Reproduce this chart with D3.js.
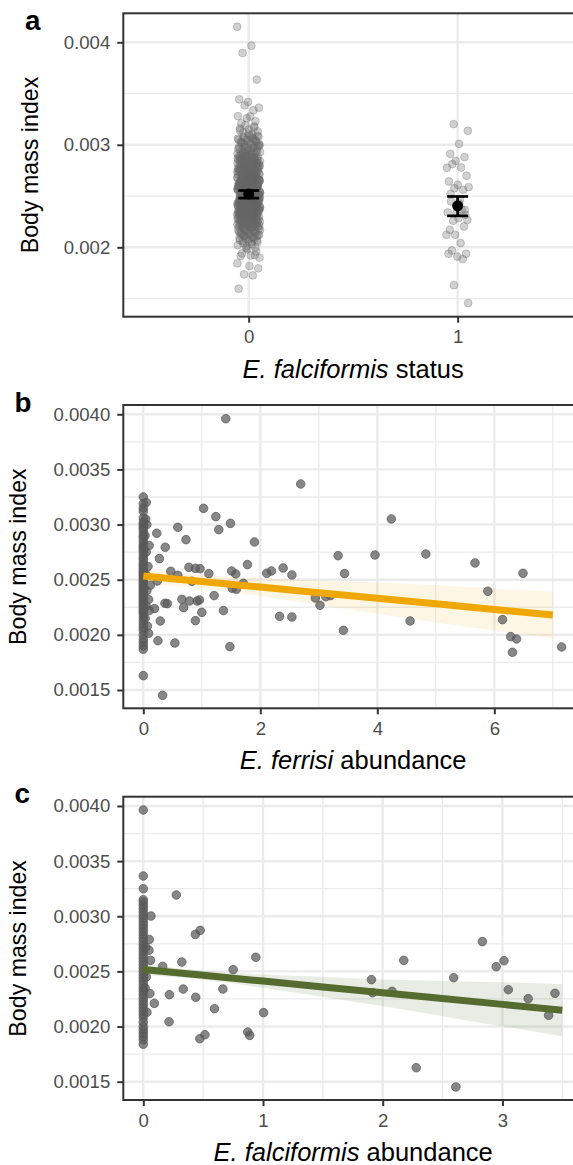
<!DOCTYPE html>
<html>
<head>
<meta charset="utf-8">
<script src="https://cdn.jsdelivr.net/npm/d3@7"></script>
<style>
  body { margin: 0; background: #fff; }
  svg text { font-family: "Liberation Sans", Arial, Helvetica, sans-serif; }
</style>
</head>
<body>
<svg id="fig" width="573" height="1165"></svg>
<script>
// ---- data ----
var statusLevels = ["0", "1"];

// BMI of mice, E. falciformis negative (status 0)
var status0BMI = [
  0.004152,0.003967,0.003896,0.003636,0.003418,0.003444,0.003337,0.003385,0.003362,0.003276,
  0.00321,0.00323,0.00326,0.00328,
  0.00310,0.00312,0.00313,0.00315,0.00316,0.00318,0.00319,
  0.00300,0.00301,0.00302,0.00303,0.00304,0.00305,0.00306,0.00307,0.00308,0.00309,0.00302,0.00305,
  0.00290,0.00291,0.00292,0.00293,0.00294,0.00295,0.00296,0.00297,0.00298,0.00299,
  0.00290,0.00291,0.00293,0.00294,0.00296,0.00297,0.00298,0.00299,
  0.00280,0.00281,0.00282,0.00283,0.00284,0.00285,0.00286,0.00287,0.00288,0.00289,
  0.00280,0.00281,0.00282,0.00283,0.00284,0.00285,0.00286,0.00287,0.00288,0.00289,
  0.00281,0.00283,0.00285,0.00287,
  0.00270,0.00271,0.00272,0.00273,0.00274,0.00275,0.00276,0.00277,0.00278,0.00279,
  0.00270,0.00271,0.00272,0.00273,0.00274,0.00275,0.00276,0.00277,0.00278,0.00279,
  0.00270,0.00271,0.00272,0.00273,0.00274,0.00275,0.00276,0.00277,0.00278,0.00279,
  0.00260,0.00261,0.00262,0.00263,0.00264,0.00265,0.00266,0.00267,0.00268,0.00269,
  0.00260,0.00261,0.00262,0.00263,0.00264,0.00265,0.00266,0.00267,0.00268,0.00269,
  0.00260,0.00261,0.00262,0.00263,0.00264,0.00265,0.00266,0.00267,0.00268,0.00269,
  0.00260,0.00262,0.00263,0.00265,0.00266,0.00268,
  0.00250,0.00251,0.00252,0.00253,0.00254,0.00255,0.00256,0.00257,0.00258,0.00259,
  0.00250,0.00251,0.00252,0.00253,0.00254,0.00255,0.00256,0.00257,0.00258,0.00259,
  0.00250,0.00251,0.00252,0.00253,0.00254,0.00255,0.00256,0.00257,0.00258,0.00259,
  0.00250,0.00251,0.00252,0.00253,0.00254,0.00255,0.00256,0.00257,0.00258,0.00259,
  0.00240,0.00241,0.00242,0.00243,0.00244,0.00245,0.00246,0.00247,0.00248,0.00249,
  0.00240,0.00241,0.00242,0.00243,0.00244,0.00245,0.00246,0.00247,0.00248,0.00249,
  0.00240,0.00241,0.00242,0.00243,0.00244,0.00245,0.00246,0.00247,0.00248,0.00249,
  0.00240,0.00241,0.00242,0.00243,0.00244,0.00245,0.00246,0.00247,0.00248,0.00249,
  0.00230,0.00231,0.00232,0.00233,0.00234,0.00235,0.00236,0.00237,0.00238,0.00239,
  0.00230,0.00231,0.00232,0.00233,0.00234,0.00235,0.00236,0.00237,0.00238,0.00239,
  0.00230,0.00231,0.00232,0.00233,0.00234,0.00235,0.00236,0.00237,0.00238,0.00239,
  0.00231,0.00234,0.00236,0.00238,
  0.00220,0.00221,0.00222,0.00223,0.00224,0.00225,0.00226,0.00227,0.00228,0.00229,
  0.00220,0.00221,0.00222,0.00223,0.00224,0.00225,0.00226,0.00227,0.00228,0.00229,
  0.00221,0.00223,0.00224,0.00226,0.00227,0.00228,
  0.00210,0.00211,0.00212,0.00213,0.00214,0.00215,0.00216,0.00217,0.00218,0.00219,
  0.00211,0.00213,0.00215,0.00216,0.00217,0.00218,0.00219,0.00212,
  0.00200,0.00201,0.00202,0.00203,0.00204,0.00205,0.00206,0.00207,0.00208,0.00209,
  0.00190,0.00192,0.00194,0.00196,0.00198,
  0.001596,0.001726,0.001736,0.001795,0.001817,0.001915,0.001925,0.00199,0.001844,
  // second batch, core of the cloud
  0.00205,0.00206,0.00207,0.00208,0.00209,
  0.00210,0.00211,0.00212,0.00213,0.00214,0.00215,0.00216,0.00217,0.00218,0.00219,
  0.00220,0.00221,0.00222,0.00223,0.00224,0.00225,0.00226,0.00227,0.00228,0.00229,
  0.00220,0.00221,0.00222,0.00223,0.00224,0.00225,0.00226,0.00227,0.00228,0.00229,
  0.00230,0.00231,0.00232,0.00233,0.00234,0.00235,0.00236,0.00237,0.00238,0.00239,
  0.00230,0.00231,0.00232,0.00233,0.00234,0.00235,0.00236,0.00237,0.00238,0.00239,
  0.00230,0.00231,0.00232,0.00233,0.00234,0.00235,0.00236,0.00237,0.00238,0.00239,
  0.00240,0.00241,0.00242,0.00243,0.00244,0.00245,0.00246,0.00247,0.00248,0.00249,
  0.00240,0.00241,0.00242,0.00243,0.00244,0.00245,0.00246,0.00247,0.00248,0.00249,
  0.00240,0.00241,0.00242,0.00243,0.00244,0.00245,0.00246,0.00247,0.00248,0.00249,
  0.00250,0.00251,0.00252,0.00253,0.00254,0.00255,0.00256,0.00257,0.00258,0.00259,
  0.00250,0.00251,0.00252,0.00253,0.00254,0.00255,0.00256,0.00257,0.00258,0.00259,
  0.00250,0.00251,0.00252,0.00253,0.00254,0.00255,0.00256,0.00257,0.00258,0.00259,
  0.00260,0.00261,0.00262,0.00263,0.00264,0.00265,0.00266,0.00267,0.00268,0.00269,
  0.00260,0.00261,0.00262,0.00263,0.00264,0.00265,0.00266,0.00267,0.00268,0.00269,
  0.00260,0.00261,0.00262,0.00263,0.00264,0.00265,0.00266,0.00267,0.00268,0.00269,
  0.00270,0.00271,0.00272,0.00273,0.00274,0.00275,0.00276,0.00277,0.00278,0.00279,
  0.00270,0.00271,0.00272,0.00273,0.00274,0.00275,0.00276,0.00277,0.00278,0.00279,
  0.00280,0.00281,0.00282,0.00283,0.00284,0.00285,0.00286,0.00287,0.00288,0.00289,
  0.00280,0.00281,0.00282,0.00283,0.00284,0.00285,0.00286,0.00287,0.00288,0.00289,
  0.00290,0.00291,0.00292,0.00293,0.00294,0.00295,0.00296,0.00297,0.00298,0.00299,
  0.00300,0.00301,0.00302,0.00303,0.00304,0.00305,0.00306,0.00307,0.00308,0.00309,
  0.00311,0.00314,0.00317
];

// BMI of mice, E. falciformis positive (status 1)
var status1BMI = [
  0.003202,0.003137,0.00301,0.002912,0.00288,0.002844,0.002776,0.002779,0.002812,0.002698,
  0.00261,0.002642,0.002561,0.002577,0.002587,0.002463,0.002447,0.002317,0.002334,0.00234,
  0.002366,0.002259,0.002268,0.002285,0.002171,0.002203,0.002122,0.002122,0.002041,0.001969,
  0.001937,0.00191,0.001937,0.001885,0.001631,0.001456,0.002424,0.002519,0.002366
];

var statusMean = [0.002519, 0.002405];
var statusCILow = [0.00248, 0.002307];
var statusCIHigh = [0.002554, 0.002496];

// panel b: E. ferrisi abundance vs BMI
var ferrisiAbund = [
  0,0,0,0,0,0,0,0,0,0, 0,0,0,0,0,0,0,0,0,0, 0,0,0,0,0,0,0,0,0,0,
  0,0,0,0,0,0,0,0,0,0, 0,0,0,0,0,0,0,0,0,0, 0,0,0,0,0,
  0.05,0.04,0.06,0.03,0.10,0.05,0.08,0.04,0.12,0.06,0.09,0.05,0.10,0.03,0.07,
  1.41,2.69,4.24,1.03,1.24,1.29,1.49,0.59,0.73,1.90,
  0.23,0.375,0.275,3.33,3.96,4.83,5.67,6.49,3.44,1.78,
  0.78,0.89,0.97,1.12,0.47,0.59,1.51,1.58,2.11,2.19,
  2.39,2.54,1.71,0.24,0.83,1.21,1.52,1.59,0.66,0.69,
  0.79,0.92,0.96,0.37,0.41,0.19,1.37,1.00,0.89,0.29,
  2.94,3.02,3.12,3.20,2.33,2.54,3.42,4.56,5.89,6.14,
  6.28,6.38,6.31,7.15,1.48,0.54,0.25,0.09,0.33
];
var ferrisiBMI = [
  0.00325,0.00319,0.00315,0.00312,0.00306,0.00302,0.00300,0.00298,0.00296,0.00293,
  0.00290,0.00288,0.00285,0.00282,0.00280,0.00278,0.00276,0.00273,0.00270,0.00268,
  0.00265,0.00263,0.00261,0.00259,0.00257,0.00255,0.00253,0.00251,0.00249,0.00247,
  0.00245,0.00243,0.00241,0.00239,0.00237,0.00235,0.00233,0.00231,0.00229,0.00227,
  0.00225,0.00223,0.00221,0.00219,0.00216,0.00213,0.00210,0.00207,0.00204,0.00200,
  0.00196,0.00193,0.00190,0.00187,0.00163,
  0.00320,0.00305,0.00300,0.00290,0.00281,0.00275,0.00262,0.00255,0.00245,0.00240,
  0.00232,0.00226,0.00222,0.00215,0.00208,
  0.00396,0.003368,0.003051,0.003147,0.003072,0.002954,0.003011,0.002975,0.002863,0.002842,
  0.002921,0.002794,0.002691,0.002718,0.002724,0.002733,0.002652,0.002558,0.002555,0.002637,
  0.002612,0.002603,0.0026,0.002555,0.002576,0.00254,0.002579,0.002552,0.002558,0.002579,
  0.002606,0.002543,0.002467,0.002488,0.002486,0.002356,0.002422,0.002413,0.002322,0.002247,
  0.002307,0.002307,0.002316,0.002286,0.002283,0.002238,0.00222,0.002204,0.002129,0.002126,
  0.002334,0.002268,0.002346,0.002356,0.002168,0.002162,0.002041,0.002126,0.002395,0.002138,
  0.001984,0.001963,0.001842,0.00189,0.001893,0.001926,0.001947,0.002014,0.001452
];
var ferrisiFitX = [0, 1, 2, 3, 4, 5, 6, 7];
var ferrisiFitY = [0.002534, 0.002483, 0.002433, 0.002382, 0.002332, 0.002281, 0.00223, 0.00218];
var ferrisiFitLow = [0.002464, 0.002423, 0.002353, 0.002272, 0.002192, 0.002111, 0.00204, 0.00197];
var ferrisiFitHigh = [0.002604, 0.002543, 0.002513, 0.002492, 0.002472, 0.002451, 0.00242, 0.00239];

// panel c: E. falciformis abundance vs BMI
var falcAbund = [
  0,0,0,0,0,0,0,0,0,0, 0,0,0,0,0,0,0,0,0,0, 0,0,0,0,0,0,0,0,0,0,
  0,0,0,0,0,0,0,0,0,0, 0,0,0,0, 0,0,0,
  0.064,0.05,0.047,0.055,0.03,0.06,0.02,0.025,0.015,
  0.276,0.435,0.475,0.94,0.162,0.322,0.751,0.334,0.218,0.438,
  0.665,0.595,1.005,0.092,0.215,0.472,0.515,0.873,0.889,1.906,
  1.915,2.078,2.176,2.28,2.593,2.611,2.832,2.948,3.013,3.049,
  3.215,3.386,3.439
];
var falcBMI = [
  0.00315,0.00313,0.00310,0.00307,0.00304,0.00301,0.00298,0.00295,0.00292,0.00289,
  0.00286,0.00283,0.00280,0.00277,0.00274,0.00271,0.00268,0.00265,0.00262,0.00259,
  0.00256,0.00253,0.00250,0.00247,0.00244,0.00241,0.00238,0.00235,0.00232,0.00229,
  0.00226,0.00223,0.00220,0.00217,0.00214,0.00211,0.00208,0.00204,0.00200,0.00197,
  0.00194,0.00191,0.00188,0.00184, 0.003964,0.003365,0.00325,
  0.003002,0.002789,0.002692,0.002299,0.002129,0.0026,0.00272,0.00245,0.00235,
  0.003193,0.002836,0.002872,0.002628,0.002546,0.002585,0.002516,0.00234,0.002289,0.002265,
  0.00234,0.002162,0.002126,0.00221,0.002044,0.00189,0.001926,0.00195,0.00192,0.002425,
  0.002307,0.002319,0.0026,0.001627,0.002443,0.001452,0.00277,0.002543,0.002597,0.002334,
  0.002253,0.002102,0.002301
];
var falcFitX = [0, 0.5, 1, 1.5, 2, 2.5, 3, 3.5];
var falcFitY = [0.002518, 0.002465, 0.002412, 0.002359, 0.002307, 0.002254, 0.002201, 0.002148];
var falcFitLow = [0.002468, 0.002425, 0.002352, 0.002269, 0.002187, 0.002094, 0.002001, 0.001912];
var falcFitHigh = [0.002568, 0.002505, 0.002472, 0.002449, 0.002427, 0.002414, 0.002401, 0.002384];

// axis ticks and limits
var bmiTicksA = [0.002, 0.003, 0.004];
var bmiMinorA = [0.0015, 0.0025, 0.0035];
var bmiTicksBC = [0.0015, 0.002, 0.0025, 0.003, 0.0035, 0.004];
var bmiMinorBC = [0.00175, 0.00225, 0.00275, 0.00325, 0.00375];
var ferrisiTicks = [0, 2, 4, 6];
var ferrisiMinor = [1, 3, 5, 7];
var falcTicks = [0, 1, 2, 3];
var falcMinor = [0.5, 1.5, 2.5, 3.5];
var bmiLimitsA = [0.001323, 0.004283];
var bmiLimitsBC = [0.001334, 0.004084];
var ferrisiLimits = [-0.342, 7.516];
var falcLimits = [-0.167, 3.673];

// ---- layout ----
var svg = d3.select("#fig");
var plotL = 123.3, plotR = 583;
var tickLabelSize = 18.6, titleSize = 23.2, xTitleSize = 25.5, tagSize = 27.8;

function panelFrame(top, bottom, x, y, xMajor, xMinor, yMajor, yMinor) {
  var g = svg.append("g");
  var gridColor = "#ebebeb";
  g.selectAll(".ymin").data(yMinor).enter().append("line")
    .attr("x1", plotL).attr("x2", plotR)
    .attr("y1", d => y(d)).attr("y2", d => y(d))
    .attr("stroke", gridColor).attr("stroke-width", 1.3);
  g.selectAll(".xmin").data(xMinor).enter().append("line")
    .attr("y1", top).attr("y2", bottom)
    .attr("x1", d => x(d)).attr("x2", d => x(d))
    .attr("stroke", gridColor).attr("stroke-width", 1.3);
  g.selectAll(".ymaj").data(yMajor).enter().append("line")
    .attr("x1", plotL).attr("x2", plotR)
    .attr("y1", d => y(d)).attr("y2", d => y(d))
    .attr("stroke", gridColor).attr("stroke-width", 2.4);
  g.selectAll(".xmaj").data(xMajor).enter().append("line")
    .attr("y1", top).attr("y2", bottom)
    .attr("x1", d => x(d)).attr("x2", d => x(d))
    .attr("stroke", gridColor).attr("stroke-width", 2.4);
  return g;
}

function panelAxes(top, bottom, x, y, xMajor, yMajor, yFmt, xFmt) {
  svg.append("rect")
    .attr("x", plotL).attr("y", top)
    .attr("width", plotR - plotL).attr("height", bottom - top)
    .attr("fill", "none").attr("stroke", "#333").attr("stroke-width", 2);

  var ya = svg.append("g").attr("transform", "translate(" + plotL + ",0)")
    .call(d3.axisLeft(y).tickValues(yMajor).tickFormat(yFmt).tickSize(6).tickPadding(7));
  var xa = svg.append("g").attr("transform", "translate(0," + bottom + ")")
    .call(d3.axisBottom(x).tickValues(xMajor).tickFormat(xFmt).tickSize(6).tickPadding(7.5));
  [ya, xa].forEach(function(a) {
    a.select(".domain").remove();
    a.selectAll("line").attr("stroke", "#333").attr("stroke-width", 2);
    a.selectAll("text").attr("fill", "#4d4d4d")
      .style("font-size", tickLabelSize + "px")
      .style("font-family", '"Liberation Sans", Arial, sans-serif');
  });
}

function yTitle(xPos, top, bottom) {
  svg.append("text")
    .attr("transform", "translate(" + xPos + "," + ((top + bottom) / 2) + ") rotate(-90)")
    .attr("text-anchor", "middle")
    .style("font-size", titleSize + "px")
    .text("Body mass index");
}

function xTitle(yPos, italicPart, rest) {
  var t = svg.append("text")
    .attr("x", (plotL + plotR) / 2).attr("y", yPos)
    .attr("text-anchor", "middle")
    .style("font-size", xTitleSize + "px");
  t.append("tspan").style("font-style", "italic").text(italicPart);
  t.append("tspan").text(" " + rest);
}

function tag(x, y, s) {
  svg.append("text").attr("x", x).attr("y", y)
    .style("font-size", tagSize + "px").style("font-weight", "bold")
    .text(s);
}

// ---- panel a ----
(function() {
  var top = 13.3, bottom = 316.7;
  var x = d3.scalePoint().domain(statusLevels).range([plotL, plotR]).padding(0.6);
  var y = d3.scaleLinear().domain(bmiLimitsA).range([bottom, top]);
  panelFrame(top, bottom, x, y, statusLevels, [], bmiTicksA, bmiMinorA);

  // jittered horizontal offset, in fractions of the category step
  function jit(i) { return ((i * 0.6180339887) % 1) - 0.5; }
  var step = x.step();
  var groups = [status0BMI, status1BMI];
  groups.forEach(function(vals, k) {
    svg.append("g").selectAll("circle").data(vals).enter().append("circle")
      .attr("cx", (d, i) => x(statusLevels[k]) + jit(i + k * 7) * 0.11 * step)
      .attr("cy", d => y(d))
      .attr("r", 3.9)
      .attr("fill", "#666").attr("fill-opacity", 0.3)
      .attr("stroke", "#666").attr("stroke-opacity", 0.3).attr("stroke-width", 1);
  });

  var eb = svg.append("g");
  var hw = 0.05 * step;
  statusLevels.forEach(function(lv, k) {
    var cx = x(lv);
    eb.append("line").attr("x1", cx).attr("x2", cx)
      .attr("y1", y(statusCILow[k])).attr("y2", y(statusCIHigh[k]))
      .attr("stroke", "#000").attr("stroke-width", 2.7);
    [statusCILow[k], statusCIHigh[k]].forEach(function(v) {
      eb.append("line").attr("x1", cx - hw).attr("x2", cx + hw)
        .attr("y1", y(v)).attr("y2", y(v))
        .attr("stroke", "#000").attr("stroke-width", 2.7);
    });
    eb.append("circle").attr("cx", cx).attr("cy", y(statusMean[k])).attr("r", 5.5).attr("fill", "#000");
  });

  panelAxes(top, bottom, x, y, statusLevels, bmiTicksA, d3.format(".3f"), d => d);
  yTitle(38, top, bottom);
  xTitle(bottom + 61, "E. falciformis", "status");
  tag(25, 30, "a");
})();

// ---- panels b and c ----
function scatterPanel(top, bottom, xs, ys, limits, xMajor, xMinor, fitX, fitY, fitLo, fitHi, color, bandAlpha, italicPart, tagText) {
  var x = d3.scaleLinear().domain(limits).range([plotL, plotR]);
  var y = d3.scaleLinear().domain(bmiLimitsBC).range([bottom, top]);
  panelFrame(top, bottom, x, y, xMajor, xMinor, bmiTicksBC, bmiMinorBC);

  var idx = d3.range(fitX.length);
  var band = d3.area().x(i => x(fitX[i])).y0(i => y(fitLo[i])).y1(i => y(fitHi[i])).curve(d3.curveMonotoneX);
  svg.append("path").datum(idx).attr("d", band).attr("fill", color).attr("fill-opacity", bandAlpha);

  svg.append("g").selectAll("circle").data(d3.range(xs.length)).enter().append("circle")
    .attr("cx", i => x(xs[i])).attr("cy", i => y(ys[i]))
    .attr("r", 4.3)
    .attr("fill", "#595959").attr("fill-opacity", 0.72)
    .attr("stroke", "#595959").attr("stroke-opacity", 0.72).attr("stroke-width", 1);

  var line = d3.line().x(i => x(fitX[i])).y(i => y(fitY[i]));
  svg.append("path").datum(idx).attr("d", line)
    .attr("fill", "none").attr("stroke", color).attr("stroke-width", 7);

  panelAxes(top, bottom, x, y, xMajor, bmiTicksBC, d3.format(".4f"), d3.format("d"));
  yTitle(26, top, bottom);
  xTitle(bottom + 61, italicPart, "abundance");
  tag(14.6, top + 6.5, tagText);
}

scatterPanel(405, 708.3, ferrisiAbund, ferrisiBMI, ferrisiLimits, ferrisiTicks, ferrisiMinor,
  ferrisiFitX, ferrisiFitY, ferrisiFitLow, ferrisiFitHigh, "#F0A800", 0.1, "E. ferrisi", "b");
scatterPanel(796.7, 1100, falcAbund, falcBMI, falcLimits, falcTicks, falcMinor,
  falcFitX, falcFitY, falcFitLow, falcFitHigh, "#556B2F", 0.13, "E. falciformis", "c");
</script>
</body>
</html>
